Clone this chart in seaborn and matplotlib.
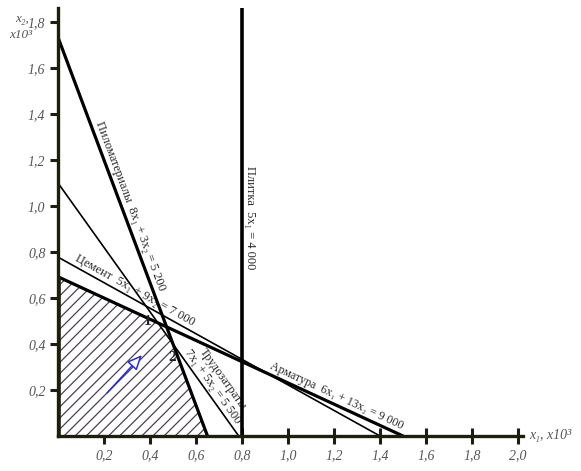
import numpy as np
import pandas as pd
import matplotlib
matplotlib.use("Agg")
import matplotlib.pyplot as plt
import seaborn as sns

# constraints a1*x1 + a2*x2 = rhs (thousands)
names = ["Пиломатериалы", "Плитка", "Цемент", "Трудозатраты", "Арматура"]
a1 = [8, 5, 5, 7, 6]
a2 = [3, 0, 9, 5, 13]
rhs = [5.2, 4.0, 7.0, 5.5, 9.0]
eq_text = ["8x₁ + 3x₂ = 5 200", "5x₁ = 4 000", "5x₁ + 9x₂ = 7 000",
           "7x₁ + 5x₂ = 5 500", "6x₁ + 13x₂ = 9 000"]

x_ticks = [0.2, 0.4, 0.6, 0.8, 1.0, 1.2, 1.4, 1.6, 1.8, 2.0]
x_ticklabels = ["0,2", "0,4", "0,6", "0,8", "1,0", "1,2", "1,4", "1,6", "1,8", "2,0"]
y_ticks = [0.2, 0.4, 0.6, 0.8, 1.0, 1.2, 1.4, 1.6, 1.8]
y_ticklabels = ["0,2", "0,4", "0,6", "0,8", "1,0", "1,2", "1,4", "1,6", "1,8"]

grad_start = (0.213, 0.187)
grad_end = (0.365, 0.352)

XMAX, YMAX = 2.02, 1.86

# line segments
rows = []
for n, p, q, r in zip(names, a1, a2, rhs):
    if q == 0:
        rows += [(n, r / p, 0.0, 0), (n, r / p, YMAX, 1)]
    else:
        rows += [(n, 0.0, r / q, 0), (n, r / p, 0.0, 1)]
df = pd.DataFrame(rows, columns=["name", "x1", "x2", "k"])


def cross(i, j):
    A = np.array([[a1[i], a2[i]], [a1[j], a2[j]]], dtype=float)
    return np.linalg.solve(A, [rhs[i], rhs[j]])


p1 = cross(4, 3)   # Арматура & Трудозатраты
p2 = cross(3, 0)   # Трудозатраты & Пиломатериалы
region = np.array([[0, 0], [0, rhs[4] / a2[4]], p1, p2, [rhs[0] / a1[0], 0]])

sns.set_style("white")
plt.rcParams["font.family"] = ["Liberation Serif", "DejaVu Serif"]
plt.rcParams["hatch.linewidth"] = 0.9

fig = plt.figure(figsize=(5.81, 4.71), dpi=100)
ax = fig.add_axes([58 / 581, 35 / 471, XMAX * 230 / 581, YMAX * 230 / 471])
ax.set_xlim(0, XMAX)
ax.set_ylim(0, YMAX)

ax.fill(region[:, 0], region[:, 1], facecolor="white", edgecolor="#4a4058",
        hatch="///", linewidth=0, zorder=1)
ax.plot([0, 0], [0, rhs[4] / a2[4]], color="#1e1e0a", lw=4, zorder=4,
        solid_capstyle="butt")

axis_col = "#1e1e0a"
widths = {"Пиломатериалы": 2.3, "Плитка": 2.6, "Цемент": 1.2,
          "Трудозатраты": 1.2, "Арматура": 2.3}
for n in names:
    sns.lineplot(data=df[df["name"] == n], x="x1", y="x2", sort=False,
                 estimator=None, color="black", lw=widths[n], ax=ax, zorder=3)
ax.set_xlabel("")
ax.set_ylabel("")

txt_col = "#2a2a2a"
kw = dict(color=txt_col, fontsize=9, ha="center", va="bottom",
          rotation_mode="anchor", transform_rotates_text=True, zorder=2)

# Пиломатериалы
yy = 0.99
ax.text((rhs[0] - a2[0] * yy) / a1[0] + 0.012, yy, names[0] + "  " + eq_text[0],
        rotation=np.degrees(np.arctan2(-a1[0], a2[0])), **kw)
# Плитка
ax.text(rhs[1] / a1[1] + 0.01, 0.95, names[1] + "  " + eq_text[1],
        rotation=-90, **kw)
# Цемент
xx = 0.322
ax.text(xx, (rhs[2] - a1[2] * xx) / a2[2] + 0.01, names[2] + "  " + eq_text[2],
        rotation=np.degrees(np.arctan2(-a1[2], a2[2])), **kw)
# Трудозатраты
yy = 0.2
ax.text((rhs[3] - a2[3] * yy) / a1[3] + 0.01, yy, names[3] + "\n" + eq_text[3],
        rotation=np.degrees(np.arctan2(-a1[3], a2[3])), linespacing=1.0, **kw)
# Арматура
xx = 1.2
ax.text(xx, (rhs[4] - a1[4] * xx) / a2[4] + 0.01, names[4] + "  " + eq_text[4],
        rotation=np.degrees(np.arctan2(-a1[4], a2[4])),
        **{**kw, "fontsize": 8.6})

ax.text(0.391, 0.496, "1", fontsize=11, fontweight="bold", ha="center", va="center",
        color="#222222", zorder=5)
ax.text(0.496, 0.343, "2", fontsize=11, fontweight="bold", ha="center", va="center",
        color="#222222", zorder=5)

ax.annotate("", xy=grad_end, xytext=grad_start, zorder=5,
            arrowprops=dict(arrowstyle="-|>,head_length=0.9,head_width=0.4",
                            fc="white", ec="#2b2bd6", lw=1.1, shrinkA=0, shrinkB=0))

# axes
for s in ["top", "right"]:
    ax.spines[s].set_visible(False)
for s in ["left", "bottom"]:
    ax.spines[s].set_color(axis_col)
    ax.spines[s].set_linewidth(2.4)
    ax.spines[s].set_zorder(6)

ax.set_xticks(x_ticks)
ax.set_xticklabels(x_ticklabels)
ax.set_yticks(y_ticks)
ax.set_yticklabels(y_ticklabels)
ax.tick_params(axis="x", bottom=True, direction="inout", length=11, width=2.2,
               color=axis_col, labelsize=10, labelcolor="#555555", pad=4)
ax.tick_params(axis="y", left=True, direction="out", length=6, width=2.2,
               color=axis_col, labelsize=10, labelcolor="#555555", pad=3)
for lab in ax.get_xticklabels() + ax.get_yticklabels():
    lab.set_fontstyle("italic")

ax.text(XMAX + 0.03, 0.0, "x₁, x10³", fontsize=10, fontstyle="italic",
        color="#555555", ha="left", va="center", clip_on=False)
ax.text(-0.125, 1.815, "x₂,", fontsize=9.5, fontstyle="italic",
        color="#555555", ha="right", va="center", clip_on=False)
ax.text(-0.11, 1.745, "x10³", fontsize=9.5, fontstyle="italic",
        color="#555555", ha="right", va="center", clip_on=False)

fig.savefig("out.png", dpi=100)
